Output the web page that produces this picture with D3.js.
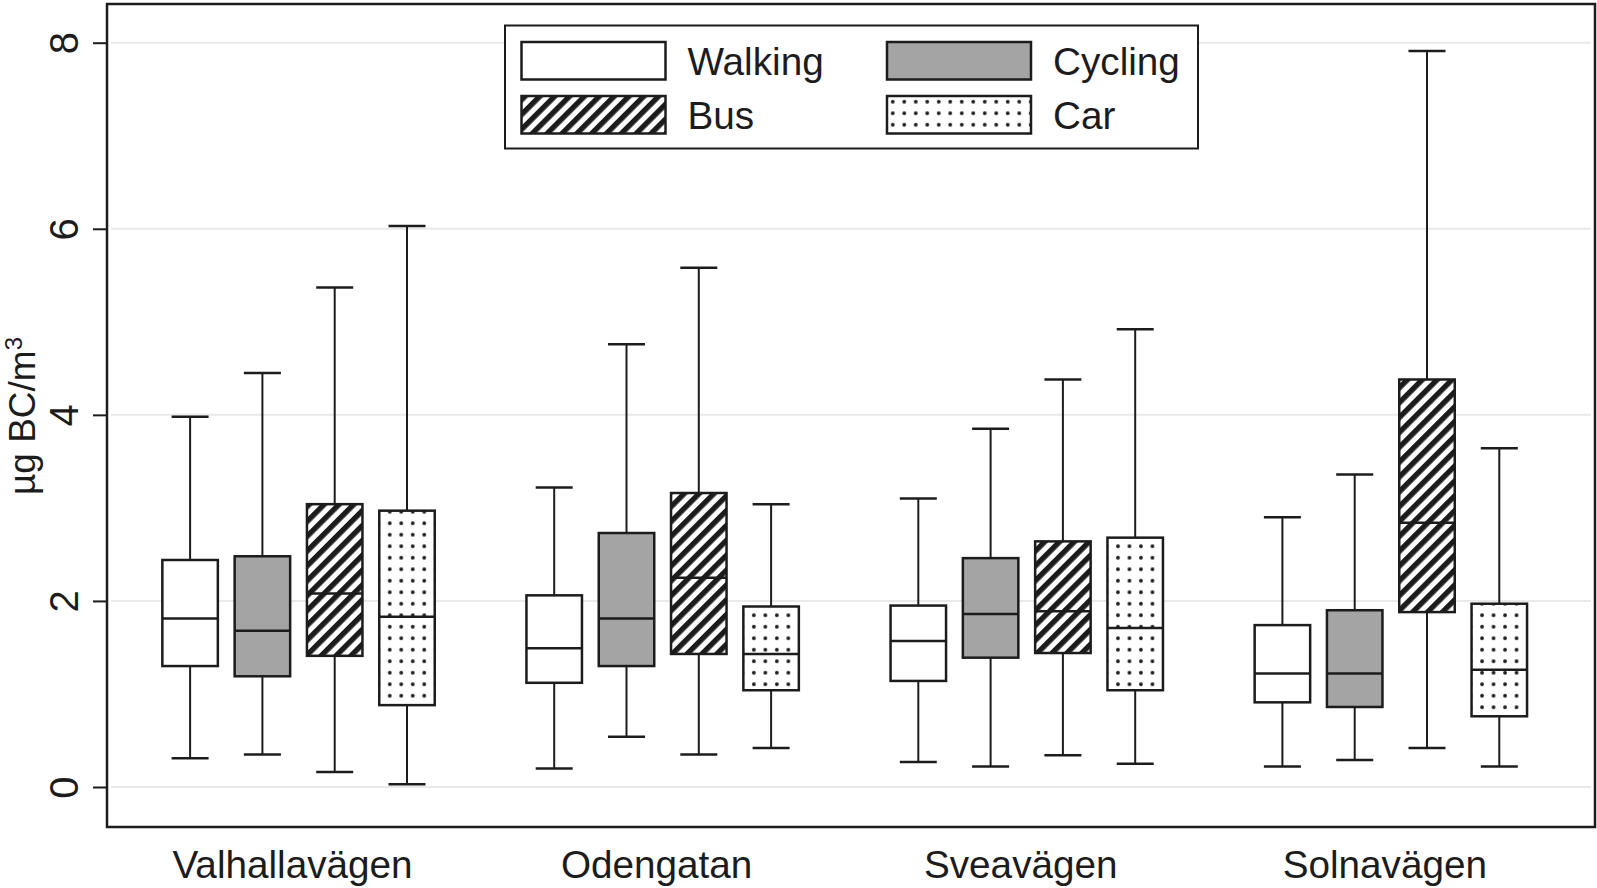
<!DOCTYPE html>
<html>
<head>
<meta charset="utf-8">
<script src="https://cdn.jsdelivr.net/npm/d3@7"></script>
<style>
  body { margin: 0; background: #fff; }
  svg { display: block; font-family: "Liberation Sans", Arial, sans-serif; }
</style>
</head>
<body>
<script>
// Data: one entry per street, values in order Walking, Cycling, Bus, Car
var streets = ["Valhallavägen", "Odengatan", "Sveavägen", "Solnavägen"];
var modes = ["Walking", "Cycling", "Bus", "Car"];
var yTicks = [0, 2, 4, 6, 8];

var whiskerLow = [
    [0.31, 0.35, 0.16, 0.03],
    [0.20, 0.54, 0.35, 0.42],
    [0.27, 0.22, 0.34, 0.25],
    [0.22, 0.29, 0.42, 0.22]
];
var q1 = [
    [1.30, 1.19, 1.41, 0.88],
    [1.12, 1.30, 1.43, 1.04],
    [1.14, 1.39, 1.44, 1.04],
    [0.91, 0.86, 1.88, 0.76]
];
var median = [
    [1.81, 1.68, 2.08, 1.83],
    [1.49, 1.81, 2.25, 1.43],
    [1.57, 1.86, 1.89, 1.71],
    [1.22, 1.22, 2.84, 1.26]
];
var q3 = [
    [2.44, 2.48, 3.04, 2.97],
    [2.06, 2.73, 3.16, 1.94],
    [1.95, 2.46, 2.64, 2.68],
    [1.74, 1.90, 4.38, 1.97]
];
var whiskerHigh = [
    [3.98, 4.45, 5.37, 6.03],
    [3.22, 4.76, 5.58, 3.04],
    [3.10, 3.85, 4.38, 4.92],
    [2.90, 3.36, 7.91, 3.64]
];

var width = 1597;
var height = 888;
var ink = "#1c1c1c";

// Plot frame
var frame = { left: 107, top: 4, right: 1595, bottom: 827 };

var svg = d3.select("body").append("svg")
    .attr("width", width)
    .attr("height", height);

// Fill patterns for Bus (hatch) and Car (dots)
var defs = svg.append("defs");

var hatch = defs.append("pattern")
    .attr("id", "hatch")
    .attr("patternUnits", "userSpaceOnUse")
    .attr("width", 10.5)
    .attr("height", 10.5)
    .attr("patternTransform", "rotate(45)");
hatch.append("rect").attr("width", 10.5).attr("height", 10.5).attr("fill", "#fff");
hatch.append("line")
    .attr("x1", 2.7).attr("y1", 0).attr("x2", 2.7).attr("y2", 10.5)
    .attr("stroke", ink).attr("stroke-width", 5.4);

var dots = defs.append("pattern")
    .attr("id", "dots")
    .attr("patternUnits", "userSpaceOnUse")
    .attr("width", 11.5)
    .attr("height", 11.5);
dots.append("rect").attr("width", 11.5).attr("height", 11.5).attr("fill", "#fff");
dots.append("circle")
    .attr("cx", 5.75).attr("cy", 5.75).attr("r", 1.9)
    .attr("fill", ink);

var fills = {
    "Walking": "#ffffff",
    "Cycling": "#a4a4a4",
    "Bus": "url(#hatch)",
    "Car": "url(#dots)"
};

// Scales
var y = d3.scaleLinear().domain([0, 8]).range([787, 42.7]);

var xGroup = d3.scaleBand()
    .domain(streets)
    .range([116.5, 1572.9])
    .paddingInner(0)
    .paddingOuter(0);

var xMode = d3.scalePoint()
    .domain(modes)
    .range([0, xGroup.bandwidth()])
    .padding(1.018);

var boxWidth = 55.5;
var capWidth = 37;

// Gridlines
svg.append("g")
    .selectAll("line")
    .data(yTicks)
    .enter().append("line")
    .attr("x1", frame.left + 4)
    .attr("x2", frame.right - 4)
    .attr("y1", function(d) { return y(d); })
    .attr("y2", function(d) { return y(d); })
    .attr("stroke", "#e9e9e9")
    .attr("stroke-width", 2);

// Y axis: ticks and rotated labels
var yAxis = svg.append("g")
    .attr("transform", "translate(" + frame.left + ",0)")
    .call(d3.axisLeft(y).tickValues(yTicks).tickSize(14).tickPadding(0).tickFormat(d3.format("d")));
yAxis.select(".domain").remove();
yAxis.selectAll(".tick line").attr("stroke", ink).attr("stroke-width", 2);
yAxis.selectAll(".tick text")
    .attr("x", null).attr("dy", null)
    .attr("text-anchor", "middle")
    .attr("transform", "translate(-29,0) rotate(-90)")
    .attr("font-size", 40)
    .attr("fill", ink);

// Y axis title
var yTitle = svg.append("text")
    .attr("transform", "translate(35,416) rotate(-90)")
    .attr("text-anchor", "middle")
    .attr("font-size", 37)
    .attr("fill", ink);
yTitle.append("tspan").text("µg BC/m");
yTitle.append("tspan").attr("dy", -13).attr("font-size", 24).text("3");

// Build box records from the arrays
var boxes = [];
streets.forEach(function(s, i) {
    modes.forEach(function(m, j) {
        boxes.push({
            street: s, mode: m,
            lo: whiskerLow[i][j], q1: q1[i][j], med: median[i][j],
            q3: q3[i][j], hi: whiskerHigh[i][j]
        });
    });
});

var boxG = svg.append("g")
    .selectAll("g")
    .data(boxes)
    .enter().append("g")
    .attr("transform", function(d) { return "translate(" + (xGroup(d.street) + xMode(d.mode)) + ",0)"; });

// Whiskers
boxG.append("line")
    .attr("y1", function(d) { return y(d.hi); })
    .attr("y2", function(d) { return y(d.q3); })
    .attr("stroke", ink).attr("stroke-width", 2);
boxG.append("line")
    .attr("y1", function(d) { return y(d.q1); })
    .attr("y2", function(d) { return y(d.lo); })
    .attr("stroke", ink).attr("stroke-width", 2);

// Caps
boxG.selectAll(".cap")
    .data(function(d) { return [d.hi, d.lo]; })
    .enter().append("line")
    .attr("class", "cap")
    .attr("x1", -capWidth / 2).attr("x2", capWidth / 2)
    .attr("y1", function(v) { return y(v); })
    .attr("y2", function(v) { return y(v); })
    .attr("stroke", ink).attr("stroke-width", 2.5);

// Boxes
boxG.append("rect")
    .attr("x", -boxWidth / 2)
    .attr("width", boxWidth)
    .attr("y", function(d) { return y(d.q3); })
    .attr("height", function(d) { return y(d.q1) - y(d.q3); })
    .attr("fill", function(d) { return fills[d.mode]; })
    .attr("stroke", ink).attr("stroke-width", 2.5);

// Medians
boxG.append("line")
    .attr("x1", -boxWidth / 2).attr("x2", boxWidth / 2)
    .attr("y1", function(d) { return y(d.med); })
    .attr("y2", function(d) { return y(d.med); })
    .attr("stroke", ink).attr("stroke-width", 2.5);

// Plot frame
svg.append("rect")
    .attr("x", frame.left).attr("y", frame.top)
    .attr("width", frame.right - frame.left)
    .attr("height", frame.bottom - frame.top)
    .attr("fill", "none")
    .attr("stroke", ink).attr("stroke-width", 2.5);

// X labels
svg.append("g")
    .selectAll("text")
    .data(streets)
    .enter().append("text")
    .attr("x", function(d) { return xGroup(d) + xGroup.bandwidth() / 2 - 6; })
    .attr("y", 878)
    .attr("text-anchor", "middle")
    .attr("font-size", 38.7)
    .attr("fill", ink)
    .text(function(d) { return d; });

// Legend
var legend = svg.append("g");
legend.append("rect")
    .attr("x", 505).attr("y", 25.5)
    .attr("width", 693).attr("height", 123)
    .attr("fill", "#fff")
    .attr("stroke", ink).attr("stroke-width", 2);

var keyCols = [521.5, 887];
var keyRows = [42, 96];
var legendItems = legend.selectAll(".item")
    .data(modes)
    .enter().append("g")
    .attr("class", "item")
    .attr("transform", function(d, i) { return "translate(" + keyCols[i % 2] + "," + keyRows[Math.floor(i / 2)] + ")"; });

legendItems.append("rect")
    .attr("width", 144)
    .attr("height", 37.5)
    .attr("fill", function(d) { return fills[d]; })
    .attr("stroke", ink).attr("stroke-width", 2.5);

legendItems.append("text")
    .attr("x", 166)
    .attr("y", 19)
    .attr("dy", "0.36em")
    .attr("font-size", 38.7)
    .attr("fill", ink)
    .text(function(d) { return d; });
</script>
</body>
</html>
